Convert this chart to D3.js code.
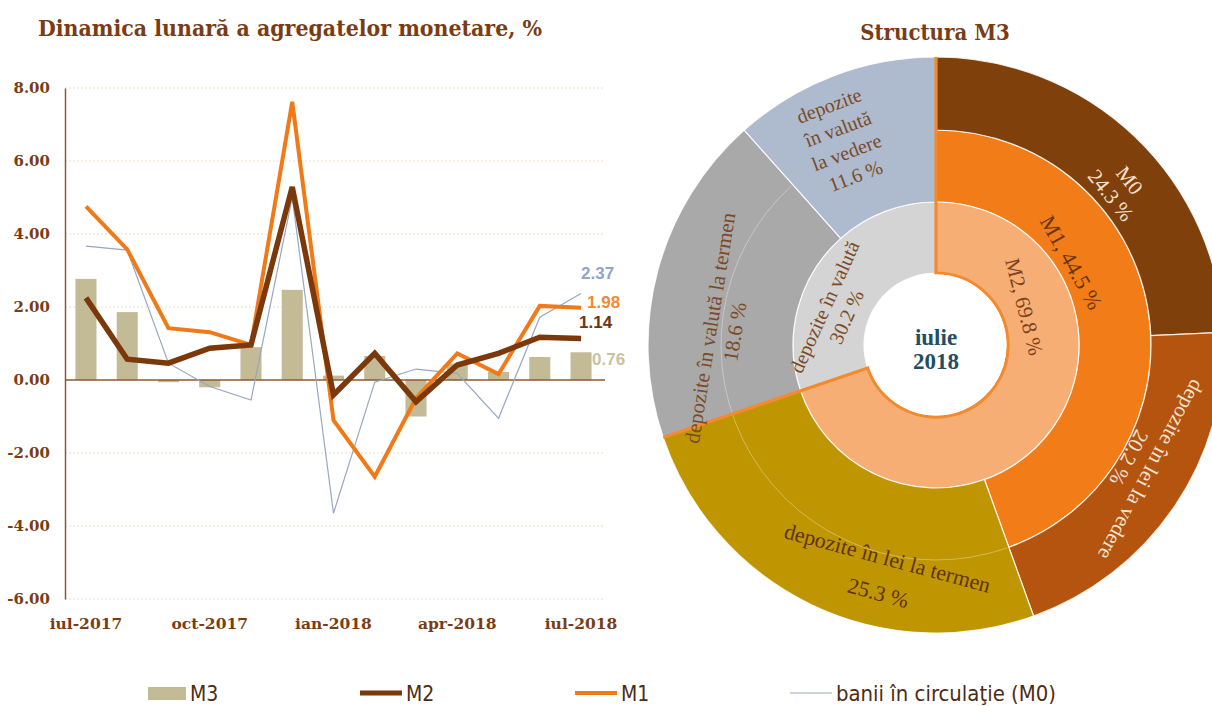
<!DOCTYPE html>
<html>
<head>
<meta charset="utf-8">
<script src="https://cdn.jsdelivr.net/npm/d3@7"></script>
<style>
  html, body { margin: 0; padding: 0; background: #ffffff; }
  svg { display: block; }
</style>
</head>
<body>
<svg id="chart" width="1212" height="706"></svg>
<script>
// ---------------- DATA ----------------
const months = ["iul-2017","aug-2017","sep-2017","oct-2017","noi-2017","dec-2017","ian-2018","feb-2018","mar-2018","apr-2018","mai-2018","iun-2018","iul-2018"];
const tickMonths = ["iul-2017","oct-2017","ian-2018","apr-2018","iul-2018"];
const yTicks = [-6, -4, -2, 0, 2, 4, 6, 8];
const m3Values = [2.77, 1.86, -0.06, -0.20, 0.90, 2.47, 0.12, 0.66, -1.00, 0.45, 0.22, 0.63, 0.76];
const m2Values = [2.25, 0.57, 0.46, 0.87, 0.96, 5.29, -0.41, 0.73, -0.60, 0.41, 0.73, 1.17, 1.14];
const m1Values = [4.76, 3.58, 1.42, 1.31, 0.96, 7.62, -1.10, -2.65, -0.50, 0.73, 0.16, 2.03, 1.98];
const m0Values = [3.67, 3.56, 0.46, -0.18, -0.55, 5.00, -3.65, -0.06, 0.30, 0.18, -1.05, 1.72, 2.37];
const seriesNames = ["M3", "M2", "M1", "banii în circulaţie (M0)"];
const lineTitle = "Dinamica lunară a agregatelor monetare, %";

const pieTitle = "Structura M3";
const centerLabel = ["iulie", "2018"];
const leafNames = ["M0", "depozite în lei la vedere", "depozite în lei la termen", "depozite în valută la termen", "depozite în valută la vedere"];
const leafValues = [24.3, 20.2, 25.3, 18.6, 11.6];
const aggNames = ["M1", "M2", "depozite în valută"];
const aggValues = [44.5, 69.8, 30.2];

// ---------------- STYLE ----------------
const C = {
  title: "#7a3c14", axis: "#8a5a30", tick: "#7a3c14", grid: "#efdcc8",
  m3: "#c3ba96", m2: "#7a380b", m1: "#f07a18", m0: "#97a7c4",
  legendText: "#4e2c12"
};
const svg = d3.select("#chart");

// ---------------- LINE / BAR CHART ----------------
const plotL = 65, plotR = 602, plotT = 88, plotB = 599;
const x = d3.scaleBand().domain(months).range([plotL, plotR]).paddingInner(0.49).paddingOuter(0.253);
const y = d3.scaleLinear().domain([-6, 8]).range([plotB, plotT]);
const cx = d => x(d) + x.bandwidth() / 2;

svg.append("text")
  .attr("x", 38).attr("y", 36)
  .attr("font-family", "'DejaVu Serif Condensed', 'DejaVu Serif', serif")
  .attr("font-weight", "bold").attr("font-size", 23)
  .attr("textLength", 504).attr("lengthAdjust", "spacingAndGlyphs")
  .attr("fill", C.title)
  .text(lineTitle);

// gridlines
svg.append("g").selectAll("line").data(yTicks.filter(t => t !== 0)).join("line")
  .attr("x1", plotL).attr("x2", 605)
  .attr("y1", d => y(d)).attr("y2", d => y(d))
  .attr("stroke", C.grid).attr("stroke-width", 1).attr("stroke-dasharray", "2,2");

// y axis
const yAxis = d3.axisLeft(y).tickValues(yTicks).tickSize(0).tickPadding(15)
  .tickFormat(d => d.toFixed(2)).tickSizeOuter(0);
const gy = svg.append("g").attr("transform", `translate(${plotL},0)`).call(yAxis);
gy.select(".domain").attr("stroke", C.axis).attr("stroke-width", 1.5);
gy.selectAll("text").attr("font-family", "'DejaVu Serif', serif").attr("font-weight", "bold")
  .attr("font-size", 15).attr("fill", C.tick);

// x axis labels
const xAxis = d3.axisBottom(x).tickValues(tickMonths).tickSize(0).tickPadding(19);
const gx = svg.append("g").attr("transform", `translate(0,${plotB})`).call(xAxis);
gx.select(".domain").remove();
gx.selectAll("text").attr("font-family", "'DejaVu Serif', serif").attr("font-weight", "bold")
  .attr("font-size", 15.5).attr("fill", C.tick);

// bars M3
svg.append("g").selectAll("rect").data(months).join("rect")
  .attr("x", (d) => x(d))
  .attr("width", x.bandwidth())
  .attr("y", (d, i) => y(Math.max(0, m3Values[i])))
  .attr("height", (d, i) => Math.abs(y(m3Values[i]) - y(0)))
  .attr("fill", C.m3);

// zero line
svg.append("line").attr("x1", plotL).attr("x2", 605).attr("y1", y(0)).attr("y2", y(0))
  .attr("stroke", C.axis).attr("stroke-width", 1.5);

const line = d3.line().x((d, i) => cx(months[i])).y(d => y(d));
svg.append("path").datum(m0Values).attr("d", line).attr("fill", "none")
  .attr("stroke", C.m0).attr("stroke-width", 1.2);
svg.append("path").datum(m1Values).attr("d", line).attr("fill", "none")
  .attr("stroke", C.m1).attr("stroke-width", 4).attr("stroke-linejoin", "miter");
svg.append("path").datum(m2Values).attr("d", line).attr("fill", "none")
  .attr("stroke", C.m2).attr("stroke-width", 5.5).attr("stroke-linejoin", "miter");

// end labels
const lastI = months.length - 1;
const endLabels = [
  { v: m0Values[lastI], color: "#8fa6c8", dx: 0, dy: -14 },
  { v: m1Values[lastI], color: "#f08a30", dx: 6, dy: 0 },
  { v: m2Values[lastI], color: "#6e3510", dx: -2, dy: -10 },
  { v: m3Values[lastI], color: "#c9c2a2", dx: 11, dy: 13 }
];
svg.append("g").selectAll("text").data(endLabels).join("text")
  .attr("x", d => cx(months[lastI]) + d.dx)
  .attr("y", d => y(d.v) + d.dy)
  .attr("font-family", "'Liberation Sans', Arial, sans-serif")
  .attr("font-weight", "bold").attr("font-size", 17)
  .attr("fill", d => d.color)
  .text(d => d.v.toFixed(2));

// legend
const legY = 693;
const lg = svg.append("g").attr("font-family", "'DejaVu Sans Condensed', 'Liberation Sans Narrow', sans-serif")
  .attr("font-size", 21).attr("fill", C.legendText);
const legItems = [
  { name: seriesNames[0], x: 148, type: "rect", color: C.m3 },
  { name: seriesNames[1], x: 360, type: "line", color: C.m2, w: 5 },
  { name: seriesNames[2], x: 575, type: "line", color: C.m1, w: 4 },
  { name: seriesNames[3], x: 790, type: "line", color: C.m0, w: 1.2 }
];
legItems.forEach(it => {
  if (it.type === "rect") {
    lg.append("rect").attr("x", it.x).attr("y", legY - 6).attr("width", 38).attr("height", 13).attr("fill", it.color);
  } else {
    lg.append("line").attr("x1", it.x).attr("x2", it.x + 42).attr("y1", legY).attr("y2", legY)
      .attr("stroke", it.color).attr("stroke-width", it.w);
  }
  const t = lg.append("text").attr("x", it.x + (it.type === "rect" ? 42 : 46)).attr("y", legY + 7.5).text(it.name);
  if (it.name === seriesNames[3]) t.attr("textLength", 220).attr("lengthAdjust", "spacingAndGlyphs");
});

// ---------------- SUNBURST ----------------
const cxp = 936, cyp = 345;
const r0 = 72, r1 = 143, r2 = 215, r3 = 288;
const pg = svg.append("g").attr("transform", `translate(${cxp},${cyp})`);
const pie = d3.pie().sort(null).value(d => d)(leafValues);
const arc = d3.arc();
const leafColors = ["#80400c", "#b4540f", "#c09502", "#a9a9a9", "#aebacd"];
const leafInner = [r2, r2, r1, r1, r1];

const segs = [];
segs.push({ startAngle: pie[0].startAngle, endAngle: pie[1].endAngle, innerRadius: r1, outerRadius: r2, fill: "#f27c18" }); // M1
segs.push({ startAngle: pie[0].startAngle, endAngle: pie[2].endAngle, innerRadius: r0, outerRadius: r1, fill: "#f6ae74" }); // M2
segs.push({ startAngle: pie[3].startAngle, endAngle: pie[4].endAngle, innerRadius: r0, outerRadius: r1, fill: "#d4d4d4" }); // valuta
pie.forEach((p, i) => segs.push({ startAngle: p.startAngle, endAngle: p.endAngle, innerRadius: leafInner[i], outerRadius: r3, fill: leafColors[i] }));

pg.selectAll("path.seg").data(segs).join("path").attr("class", "seg")
  .attr("d", d => arc(d)).attr("fill", d => d.fill)
  .attr("stroke", "#ffffff").attr("stroke-width", 1.2).attr("stroke-opacity", 0.85);

pg.append("path")
  .attr("d", d3.arc()({ startAngle: pie[2].startAngle + 0.01, endAngle: pie[3].endAngle - 0.01, innerRadius: r2, outerRadius: r2 }))
  .attr("fill", "none").attr("stroke", "#ffffff").attr("stroke-opacity", 0.18).attr("stroke-width", 1);

const pol = (r, a) => [r * Math.sin(a), -r * Math.cos(a)];
const a2 = pie[2].endAngle;
const m2Outline = d3.path();
m2Outline.moveTo(...pol(r3, 0));
m2Outline.lineTo(...pol(r0, 0));
m2Outline.arc(0, 0, r0, -Math.PI / 2, a2 - Math.PI / 2, false);
m2Outline.lineTo(...pol(r3, a2));
pg.append("path").attr("d", m2Outline.toString()).attr("fill", "none")
  .attr("stroke", "#f28a30").attr("stroke-width", 3.2);

pg.append("circle").attr("r", r0 - 1.5).attr("fill", "#ffffff");
const ct = pg.append("text")
  .attr("text-anchor", "middle")
  .attr("font-family", "'Liberation Serif', 'Times New Roman', serif")
  .attr("font-weight", "bold").attr("font-size", 23).attr("fill", "#1f4f60");
centerLabel.forEach((d, i) => ct.append("tspan").attr("x", 0).attr("y", i * 24).text(d));

const deg = Math.PI / 180;
function segAngle(start, end, f) { return start + f * (end - start); }
const labelSpecs = [
  { lines: ["depozite", "în valută", "la vedere", leafValues[4].toFixed(1) + " %"], a: segAngle(pie[4].startAngle, pie[4].endAngle, 0.41), r: 225, rot: 4, size: 20, color: "#7a4a26", lh: 25 },
  { lines: [leafNames[0], leafValues[0].toFixed(1) + " %"], a: segAngle(pie[0].startAngle, pie[0].endAngle, 0.566), r: 242, rot: 2, size: 21, color: "#f6e2cc", lh: 24 },
  { lines: [aggNames[0] + ", " + aggValues[0].toFixed(1) + " %"], a: segAngle(pie[0].startAngle, pie[1].endAngle, 0.366), r: 159, rot: 2, size: 22, color: "#6a3511", lh: 24 },
  { lines: [aggNames[1] + ", " + aggValues[1].toFixed(1) + " %"], a: segAngle(pie[0].startAngle, pie[2].endAngle, 0.265), r: 96, rot: 9, size: 21, color: "#7a4220", lh: 24 },
  { lines: [aggNames[2], aggValues[2].toFixed(1) + " %"], a: segAngle(pie[3].startAngle, pie[4].endAngle, 0.34), r: 106, rot: 6, size: 20, color: "#7a4a26", lh: 24 },
  { lines: [leafNames[1], leafValues[1].toFixed(1) + " %"], a: segAngle(pie[1].startAngle, pie[1].endAngle, 0.45), r: 236, rot: -2, size: 21, color: "#f4e4d4", lh: 25 },
  { lines: [leafNames[2], leafValues[2].toFixed(1) + " %"], a: segAngle(pie[2].startAngle, pie[2].endAngle, 0.36), r: 236, rot: -178, size: 22, color: "#5e3410", lh: 36 },
  { lines: [leafNames[3], leafValues[3].toFixed(1) + " %"], a: segAngle(pie[3].startAngle, pie[3].endAngle, 0.34), r: 214, rot: 5, size: 21, color: "#7a4a26", lh: 25 }
];

labelSpecs.forEach(s => {
  const [px, py] = pol(s.r, s.a);
  const rotDeg = s.a / deg + s.rot;
  const g = pg.append("g").attr("transform", `translate(${px},${py}) rotate(${rotDeg})`);
  const n = s.lines.length;
  const t = g.append("text").attr("text-anchor", "middle").attr("dominant-baseline", "central")
    .attr("font-family", "'Liberation Serif', 'Times New Roman', serif")
    .attr("font-size", s.size).attr("fill", s.color);
  s.lines.forEach((line, i) => {
    t.append("tspan").attr("x", 0).attr("y", (i - (n - 1) / 2) * s.lh).text(line);
  });
});

svg.append("text").attr("x", 935).attr("y", 40).attr("text-anchor", "middle")
  .attr("font-family", "'DejaVu Serif Condensed', 'DejaVu Serif', serif")
  .attr("font-weight", "bold").attr("font-size", 22).attr("fill", C.title)
  .text(pieTitle);
</script>
</body>
</html>
